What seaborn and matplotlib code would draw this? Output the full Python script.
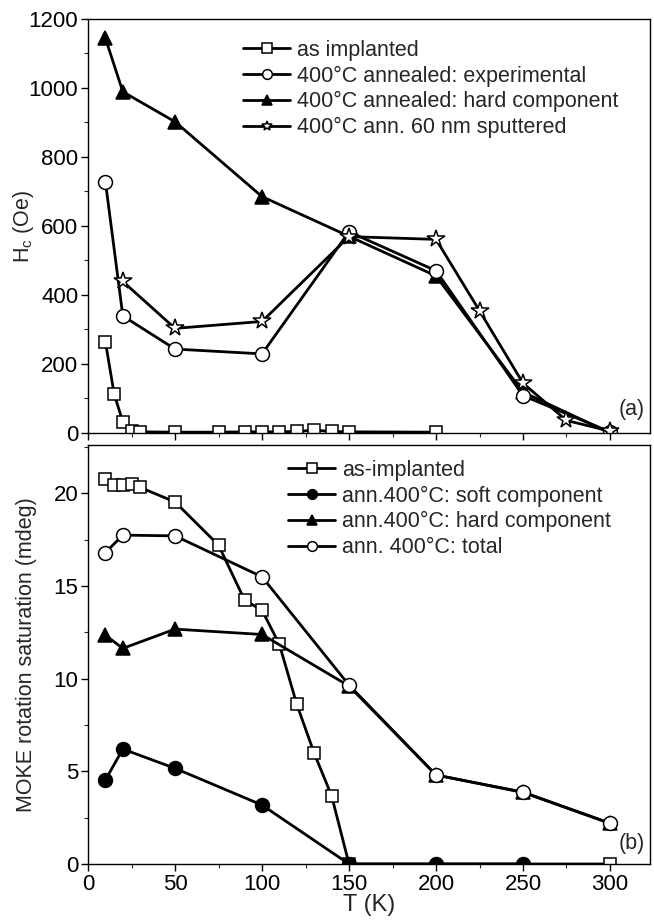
import matplotlib
matplotlib.use("Agg")
import matplotlib.pyplot as plt
import seaborn as sns
import numpy as np
from matplotlib.ticker import MultipleLocator

# ---------------- data: panel (a) coercivity ----------------
T_asimp_a = [10, 15, 20, 25, 30, 50, 75, 90, 100, 110, 120, 130, 140, 150, 200]
Hc_asimp = [264, 113, 32, 5, 3, 2, 2, 3, 3, 3, 4, 8, 4, 3, 2]

T_exp_a = [10, 20, 50, 100, 150, 200, 250, 300]
Hc_exp = [728, 339, 243, 229, 583, 470, 108, 3]

T_hard_a = [10, 20, 50, 100, 150, 200, 250, 300]
Hc_hard = [1144, 989, 902, 685, 570, 455, 118, 0]

T_sput_a = [20, 50, 100, 150, 200, 225, 250, 275, 300]
Hc_sput = [439, 303, 323, 569, 561, 354, 144, 36, 5]

labels_a = ["as implanted",
            "400°C annealed: experimental",
            "400°C annealed: hard component",
            "400°C ann. 60 nm sputtered"]

# ---------------- data: panel (b) MOKE rotation ----------------
T_asimp_b = [10, 15, 20, 25, 30, 50, 75, 90, 100, 110, 120, 130, 140, 150, 300]
M_asimp = [20.79, 20.46, 20.43, 20.52, 20.31, 19.53, 17.2, 14.23, 13.69, 11.84, 8.61, 5.97, 3.68, 0.0, 0.0]

T_soft_b = [10, 20, 50, 100, 150, 200, 250]
M_soft = [4.53, 6.2, 5.16, 3.18, 0.0, 0.0, 0.0]

T_hard_b = [10, 20, 50, 100, 150, 200, 250, 300]
M_hard = [12.34, 11.63, 12.67, 12.38, 9.6, 4.8, 3.88, 2.2]

T_tot_b = [10, 20, 50, 100, 150, 200, 250, 300]
M_tot = [16.8, 17.74, 17.7, 15.49, 9.65, 4.8, 3.86, 2.19]

labels_b = ["as-implanted",
            "ann.400°C: soft component",
            "ann.400°C: hard component",
            "ann. 400°C: total"]

# ---------------- styling ----------------
sns.set_style("ticks")
plt.rcParams['font.family'] = ['Liberation Sans', 'DejaVu Sans']
plt.rcParams['mathtext.fontset'] = 'custom'
plt.rcParams['mathtext.rm'] = 'Liberation Sans'
plt.rcParams['mathtext.it'] = 'Liberation Sans:italic'
FS = 15.5

fig = plt.figure(figsize=(6.54, 9.21), dpi=100)
ax1 = fig.add_axes([0.1346, 0.530, 0.8593, 0.4494])
ax2 = fig.add_axes([0.1346, 0.0619, 0.8593, 0.4549])

LW = 2.0
MEW = 1.1


def draw(ax, x, y, marker, filled, label, ms):
    sns.lineplot(x=x, y=y, ax=ax, color="black", linewidth=LW, marker=marker,
                 markersize=ms, markerfacecolor="black" if filled else "white",
                 markeredgecolor="black", markeredgewidth=MEW, label=label,
                 sort=False, estimator=None)


# panel (a)
draw(ax1, T_hard_a, Hc_hard, "^", True, labels_a[2], 10.5)
draw(ax1, T_exp_a, Hc_exp, "o", False, labels_a[1], 10)
draw(ax1, T_sput_a, Hc_sput, "*", False, labels_a[3], 13)
draw(ax1, T_asimp_a, Hc_asimp, "s", False, labels_a[0], 9)

h, l = ax1.get_legend_handles_labels()
order = [l.index(s) for s in labels_a]
leg1 = ax1.legend([h[i] for i in order], [l[i] for i in order],
                  loc="upper left", bbox_to_anchor=(0.276, 0.95), frameon=False,
                  fontsize=FS, handlelength=2.2, handletextpad=0.3,
                  labelspacing=0.22, borderaxespad=0, borderpad=0)
for lh in leg1.legend_handles:
    lh.set_markersize(7)

ax1.set_xlim(0, 323)
ax1.set_ylim(0, 1200)
ax1.yaxis.set_major_locator(MultipleLocator(200))
ax1.yaxis.set_minor_locator(MultipleLocator(100))
ax1.xaxis.set_major_locator(MultipleLocator(50))
ax1.xaxis.set_minor_locator(MultipleLocator(25))
ax1.tick_params(axis="x", labelbottom=False)
ax1.set_xlabel("")
ax1.set_ylabel("H$_\\mathrm{c}$ (Oe)", fontsize=FS)
ax1.yaxis.set_label_coords(-0.092, 0.5)
ax1.text(0.99, 0.056, "(a)", transform=ax1.transAxes, ha="right", va="center", fontsize=FS)

# panel (b)
draw(ax2, T_asimp_b, M_asimp, "s", False, labels_b[0], 9)
draw(ax2, T_soft_b, M_soft, "o", True, labels_b[1], 10)
draw(ax2, T_hard_b, M_hard, "^", True, labels_b[2], 10.5)
draw(ax2, T_tot_b, M_tot, "o", False, labels_b[3], 10)

leg2 = ax2.legend(loc="upper left", bbox_to_anchor=(0.356, 0.965), frameon=False,
                  fontsize=FS, handlelength=2.2, handletextpad=0.3,
                  labelspacing=0.22, borderaxespad=0, borderpad=0)
for lh in leg2.legend_handles:
    lh.set_markersize(7)

ax2.set_xlim(0, 323)
ax2.set_ylim(0, 22.6)
ax2.yaxis.set_major_locator(MultipleLocator(5))
ax2.yaxis.set_minor_locator(MultipleLocator(2.5))
ax2.xaxis.set_major_locator(MultipleLocator(50))
ax2.xaxis.set_minor_locator(MultipleLocator(25))
ax2.set_xlabel("T (K)", fontsize=FS + 1.5)
ax2.xaxis.set_label_coords(0.5, -0.072)
ax2.set_ylabel("MOKE rotation saturation (mdeg)", fontsize=FS)
ax2.yaxis.set_label_coords(-0.09, 0.5)
ax2.text(0.99, 0.05, "(b)", transform=ax2.transAxes, ha="right", va="center", fontsize=FS)

for ax in (ax1, ax2):
    for s in ax.spines.values():
        s.set_linewidth(1.0)
        s.set_color("black")
    ax.tick_params(which="major", direction="out", length=5, width=1.0,
                   labelsize=FS + 0.5, colors="black", pad=2)
    ax.tick_params(which="minor", direction="out", length=3, width=0.8)

fig.savefig("out.png", dpi=100)
